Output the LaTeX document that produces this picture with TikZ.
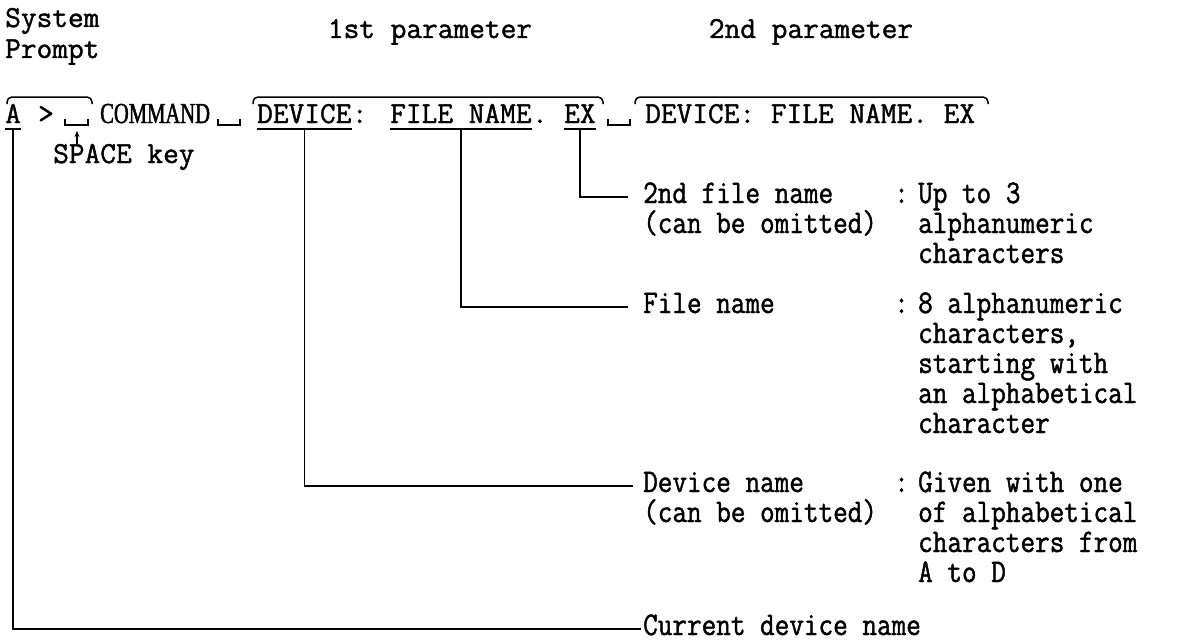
\documentclass[tikz,border=0pt]{standalone}
\usepackage{fontspec}
\newfontfamily\tw{Latin Modern Mono}[FakeBold=1.3]
\newfontfamily\twc{Latin Modern Mono}[FakeBold=1.3,FakeStretch=0.86]
\newfontfamily\cmdf{Liberation Serif}[FakeStretch=0.71,FakeBold=1.5]
\usetikzlibrary{arrows.meta}
\begin{document}
\begin{tikzpicture}[x=1pt,y=-1pt,
  txt/.style={anchor=base west,inner sep=0pt,font={\tw\fontsize{30.5}{30.5}\selectfont}},
  lbl/.style={anchor=base west,inner sep=0pt,text height=12pt,text depth=0pt,font={\twc\fontsize{33}{33}\selectfont}},
  ln/.style={line width=1.6pt},
  brc/.style={line width=1.5pt,rounded corners=5pt},
  spc/.style={line width=1.5pt}]
\useasboundingbox[fill=white] (0,0) rectangle (1189,642);
% headings
\node[txt] (sys1) at (5,27) {System};
\node[txt] (sys2) at (5,58) {Prompt};
\node[txt,anchor=base] (par1) at (430,38) {1st parameter};
\node[txt,anchor=base] (par2) at (811,38) {2nd parameter};
% command line
\node[txt] (nA) at (5,123) {A};
\node[txt] (gt) at (38,123) {>};
\node[anchor=base west,inner sep=0pt,font={\cmdf\fontsize{29}{29}\selectfont}] (cmd) at (100,123) {COMMAND};
\node[txt] (nDev) at (257,123) {DEVICE};
\node[txt,anchor=base west] (col1) at (nDev.base east) {:};
\node[txt] (nFile) at (390,123) {FILE NAME};
\node[txt,anchor=base west] (dot1) at (nFile.base east) {.};
\node[txt] (nEx) at (564,123) {EX};
\node[txt] (par2txt) at (645,123) {DEVICE: FILE NAME. EX};
% space symbols
\draw[spc] (65,119) -- (65,125) -- (88,125) -- (88,119);
\draw[spc] (218,119) -- (218,125) -- (240,125) -- (240,119);
\draw[spc] (608,119) -- (608,125) -- (630,125) -- (630,119);
\coordinate (sp1) at (77,131);
% braces
\draw[brc] (7,104) -- (7,97) -- (92,97) -- (92,104);
\draw[brc] (253,104) -- (253,97) -- (603,97) -- (603,104);
\draw[brc] (635,104) -- (635,97) -- (988,97) -- (988,104);
% underlines
\foreach \n in {nA,nDev,nFile,nEx}
  \draw[ln] ([yshift=-6pt]\n.base west) -- ([yshift=-6pt]\n.base east);
% SPACE key
\node[txt] (key) at (53,163) {SPACE key};
\draw[line width=1.4pt,-{Stealth[length=6pt,width=5pt]}] (sp1 |- key.north) -- (sp1);
% labels
\node[lbl] (lEx) at (643,203) {2nd file name};
\node[lbl] (lEx2) at (643,233) {(can be omitted)};
\node[lbl] (lFile) at (643,313) {File name};
\node[lbl] (lDev) at (643,492) {Device name};
\node[lbl] (lDev2) at (643,522) {(can be omitted)};
\node[lbl] (lCur) at (643,635) {Current device name};
\node[lbl] (c1) at (894,203) {:};
\node[lbl] (c2) at (894,313) {:};
\node[lbl] (c3) at (894,492) {:};
\foreach \t [count=\i] in {Up to 3,alphanumeric,characters}
  \node[lbl] (dA\i) at (918,173+30*\i) {\t};
\foreach \t [count=\i] in {8 alphanumeric,{characters,},starting with,an alphabetical,character}
  \node[lbl] (dB\i) at (918,283+30*\i) {\t};
\foreach \t [count=\i] in {Given with one,of alphabetical,characters from,A to D}
  \node[lbl] (dC\i) at (918,462+30*\i) {\t};
% connectors
\draw[ln] ([yshift=-6pt]nEx.base) |- ([xshift=-15pt]lEx.west);
\draw[ln] ([yshift=-6pt]nFile.base) |- ([xshift=-15pt]lFile.west);
\draw[ln] ([yshift=-6pt]nDev.base) |- ([xshift=-10pt]lDev.west);
\draw[ln] ([yshift=-6pt]nA.base) |- ([xshift=-2pt]lCur.west);
\end{tikzpicture}
\end{document}
